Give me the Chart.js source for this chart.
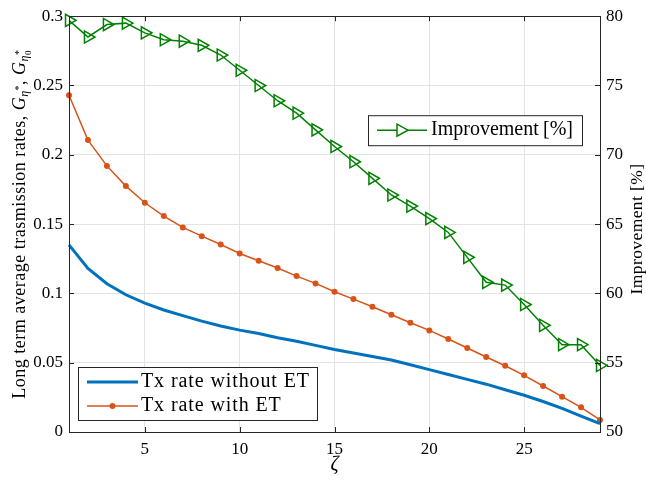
<!DOCTYPE html>
<html>
<head>
<meta charset="utf-8">
<script src="https://cdn.jsdelivr.net/npm/chart.js@4.4.0/dist/chart.umd.min.js"></script>
<style>
  html, body { margin: 0; padding: 0; background: #fff; }
  #wrap { width: 646px; height: 481px; }
</style>
</head>
<body>
<div id="wrap"><canvas id="chart"></canvas></div>
<script>
// ---------- Data ----------
const zeta = [1, 2, 3, 4, 5, 6, 7, 8, 9, 10, 11, 12, 13, 14, 15,
              16, 17, 18, 19, 20, 21, 22, 23, 24, 25, 26, 27, 28, 29];

const rateWithoutET = [0.135, 0.118, 0.107, 0.099, 0.093, 0.088, 0.084, 0.080, 0.0765, 0.0735,
                       0.071, 0.068, 0.0655, 0.0625, 0.0595, 0.057, 0.0545, 0.052, 0.0485, 0.045,
                       0.0415, 0.038, 0.0345, 0.0305, 0.0265, 0.022, 0.017, 0.0115, 0.006];

const rateWithET = [0.243, 0.2106, 0.192, 0.1774, 0.1654, 0.1558, 0.1476, 0.1413, 0.1353, 0.1288,
                    0.1236, 0.1183, 0.1125, 0.1072, 0.1012, 0.0959, 0.0904, 0.0846, 0.0788, 0.0733,
                    0.0671, 0.0606, 0.0541, 0.0478, 0.0409, 0.0332, 0.0255, 0.0178, 0.0087];

const improvement = [79.7, 78.5, 79.4, 79.5, 78.8, 78.3, 78.2, 77.9, 77.2, 76.1,
                     75.0, 73.9, 73.0, 71.8, 70.6, 69.5, 68.3, 67.1, 66.3, 65.4,
                     64.4, 62.6, 60.8, 60.6, 59.2, 57.7, 56.3, 56.3, 54.8];

const xTicks     = [5, 10, 15, 20, 25];
const leftTicks  = [0, 0.05, 0.1, 0.15, 0.2, 0.25, 0.3];
const rightTicks = [50, 55, 60, 65, 70, 75, 80];

// ---------- Style ----------
const SERIF  = '"Liberation Serif", "DejaVu Serif", serif';
const AXIS   = '#262626';
const GRID   = '#e3e3e3';
const BLUE   = '#0072BD';
const ORANGE = '#D95319';
const GREEN  = '#008000';

const toPts = ys => ys.map((y, i) => ({ x: zeta[i], y }));

// ---------- Plugins ----------
// MATLAB-like box with inward tick marks
const boxPlugin = {
  id: 'box',
  afterDatasetsDraw(chart) {
    const { ctx, chartArea: a, scales } = chart;
    ctx.save();
    ctx.strokeStyle = AXIS;
    ctx.lineWidth = 1;
    ctx.beginPath();
    xTicks.forEach(v => {
      const x = Math.round(scales.x.getPixelForValue(v)) + 0.5;
      ctx.moveTo(x, a.bottom); ctx.lineTo(x, a.bottom - 5);
      ctx.moveTo(x, a.top);    ctx.lineTo(x, a.top + 5);
    });
    leftTicks.forEach(v => {
      const y = Math.round(scales.y.getPixelForValue(v)) + 0.5;
      ctx.moveTo(a.left, y); ctx.lineTo(a.left + 5, y);
    });
    rightTicks.forEach(v => {
      const y = Math.round(scales.y1.getPixelForValue(v)) + 0.5;
      ctx.moveTo(a.right, y); ctx.lineTo(a.right - 5, y);
    });
    ctx.stroke();
    ctx.strokeRect(Math.round(a.left) + 0.5, Math.round(a.top) + 0.5,
                   Math.round(a.right - a.left), Math.round(a.bottom - a.top));
    ctx.restore();
  }
};

// Legend boxes and rotated axis titles
const annotPlugin = {
  id: 'annot',
  afterDraw(chart) {
    const { ctx, chartArea: a } = chart;
    ctx.save();

    // legend 1 (bottom left)
    let bx = a.left + 9, by = a.bottom - 65;
    ctx.fillStyle = '#fff';
    ctx.fillRect(bx, by, 239, 53);
    ctx.strokeStyle = AXIS;
    ctx.lineWidth = 1;
    ctx.strokeRect(bx + 0.5, by + 0.5, 239, 53);
    ctx.strokeStyle = BLUE; ctx.lineWidth = 3;
    ctx.beginPath(); ctx.moveTo(bx + 9, by + 15); ctx.lineTo(bx + 60, by + 15); ctx.stroke();
    ctx.strokeStyle = ORANGE; ctx.lineWidth = 1.5;
    ctx.beginPath(); ctx.moveTo(bx + 9, by + 39); ctx.lineTo(bx + 60, by + 39); ctx.stroke();
    ctx.fillStyle = ORANGE;
    ctx.beginPath(); ctx.arc(bx + 34.5, by + 39, 3, 0, Math.PI * 2); ctx.fill();
    ctx.fillStyle = '#000';
    ctx.font = '20px ' + SERIF;
    ctx.textBaseline = 'middle';
    ctx.textAlign = 'left';
    ctx.letterSpacing = '0.9px';
    ctx.fillText('Tx rate without ET', bx + 63, by + 15);
    ctx.fillText('Tx rate with ET', bx + 63, by + 39);
    ctx.letterSpacing = '0px';

    // legend 2 (upper right)
    bx = a.right - 232; by = a.top + 99;
    ctx.fillStyle = '#fff';
    ctx.fillRect(bx, by, 214, 30);
    ctx.strokeStyle = AXIS; ctx.lineWidth = 1;
    ctx.strokeRect(bx + 0.5, by + 0.5, 214, 30);
    ctx.strokeStyle = GREEN; ctx.lineWidth = 1.5;
    ctx.beginPath(); ctx.moveTo(bx + 9, by + 15); ctx.lineTo(bx + 59, by + 15); ctx.stroke();
    ctx.beginPath();
    ctx.moveTo(bx + 29, by + 9); ctx.lineTo(bx + 40, by + 15); ctx.lineTo(bx + 29, by + 21);
    ctx.closePath(); ctx.fillStyle = '#fff'; ctx.fill(); ctx.stroke();
    ctx.fillStyle = '#000';
    ctx.fillText('Improvement', bx + 63, by + 15);
    ctx.fillText('[%]', bx + 175, by + 15);

    // left title (rotated, with math)
    const segs = [
      { t: 'Long term average trasmission rates, ', f: '18px ' + SERIF, dy: 0 },
      { t: 'G', f: 'italic 18px ' + SERIF, dy: 0 },
      { t: 'η', f: 'italic 12px ' + SERIF, dy: 5 },
      { t: '*', f: '10px ' + SERIF, dy: -1 },
      { t: ', ', f: '18px ' + SERIF, dy: 0 },
      { t: 'G', f: 'italic 18px ' + SERIF, dy: 0 },
      { t: 'η', f: 'italic 12px ' + SERIF, dy: 5 },
      { t: '*', f: '10px ' + SERIF, dy: -1, stack: '0' }
    ];
    let total = 0;
    ctx.letterSpacing = '0.5px';
    segs.forEach(s => { ctx.font = s.f; s.w = ctx.measureText(s.t).width; total += s.w; });
    ctx.translate(20, (a.top + a.bottom) / 2);
    ctx.rotate(-Math.PI / 2);
    ctx.textBaseline = 'middle';
    let x = -total / 2;
    segs.forEach(s => {
      ctx.font = s.f;
      ctx.fillText(s.t, x, s.dy);
      if (s.stack) {
        ctx.font = '9px ' + SERIF;
        ctx.fillText(s.stack, x, 9);
      }
      x += s.w;
    });
    ctx.setTransform(1, 0, 0, 1, 0, 0);

    // right title
    ctx.letterSpacing = '0.4px';
    ctx.translate(637, 229);
    ctx.rotate(-Math.PI / 2);
    ctx.font = '17.5px ' + SERIF;
    ctx.textAlign = 'center';
    ctx.fillText('Improvement [%]', 0, 0);
    ctx.restore();
  }
};

// ---------- Chart ----------
new Chart(document.getElementById('chart'), {
  type: 'line',
  data: {
    datasets: [
      {
        label: 'Tx rate without ET',
        data: toPts(rateWithoutET),
        borderColor: BLUE,
        borderWidth: 3,
        pointRadius: 0,
        yAxisID: 'y',
        clip: false,
      },
      {
        label: 'Tx rate with ET',
        data: toPts(rateWithET),
        borderColor: ORANGE,
        backgroundColor: ORANGE,
        borderWidth: 1.5,
        pointRadius: 3,
        pointBorderWidth: 0,
        yAxisID: 'y',
        clip: false,
      },
      {
        label: 'Improvement [%]',
        data: toPts(improvement),
        borderColor: GREEN,
        backgroundColor: 'rgba(0,0,0,0)',
        borderWidth: 1.5,
        pointStyle: 'triangle',
        pointRotation: 90,
        pointRadius: 7,
        pointBorderWidth: 1.5,
        yAxisID: 'y1',
        clip: false,
      },
    ],
  },
  options: {
    responsive: true,
    maintainAspectRatio: false,
    animation: false,
    layout: { padding: { top: 16, left: 0, right: 0, bottom: 0 } },
    plugins: { legend: { display: false }, tooltip: { enabled: false } },
    scales: {
      x: {
        type: 'linear',
        min: 1,
        max: 29,
        afterBuildTicks: s => { s.ticks = xTicks.map(v => ({ value: v })); },
        afterFit: s => { s.height = 49; },
        grid: { color: GRID, drawTicks: false },
        border: { display: false },
        ticks: { padding: 7, color: '#000', font: { family: SERIF, size: 17 } },
        title: {
          display: true,
          text: 'ζ',
          color: '#000',
          font: { family: SERIF, size: 20, style: 'italic' },
          padding: { top: 0, bottom: 4 },
        },
      },
      y: {
        position: 'left',
        min: 0,
        max: 0.3,
        afterBuildTicks: s => { s.ticks = leftTicks.map(v => ({ value: v })); },
        afterFit: s => { s.width = 69; },
        grid: { color: GRID, drawTicks: false },
        border: { display: false },
        ticks: { padding: 6, color: '#000', font: { family: SERIF, size: 17 },
                 callback: v => String(v) },
      },
      y1: {
        position: 'right',
        min: 50,
        max: 80,
        afterBuildTicks: s => { s.ticks = rightTicks.map(v => ({ value: v })); },
        afterFit: s => { s.width = 46; },
        grid: { display: false, drawTicks: false },
        border: { display: false },
        ticks: { padding: 6, color: '#000', font: { family: SERIF, size: 17 } },
      },
    },
  },
  plugins: [boxPlugin, annotPlugin],
});
</script>
</body>
</html>
